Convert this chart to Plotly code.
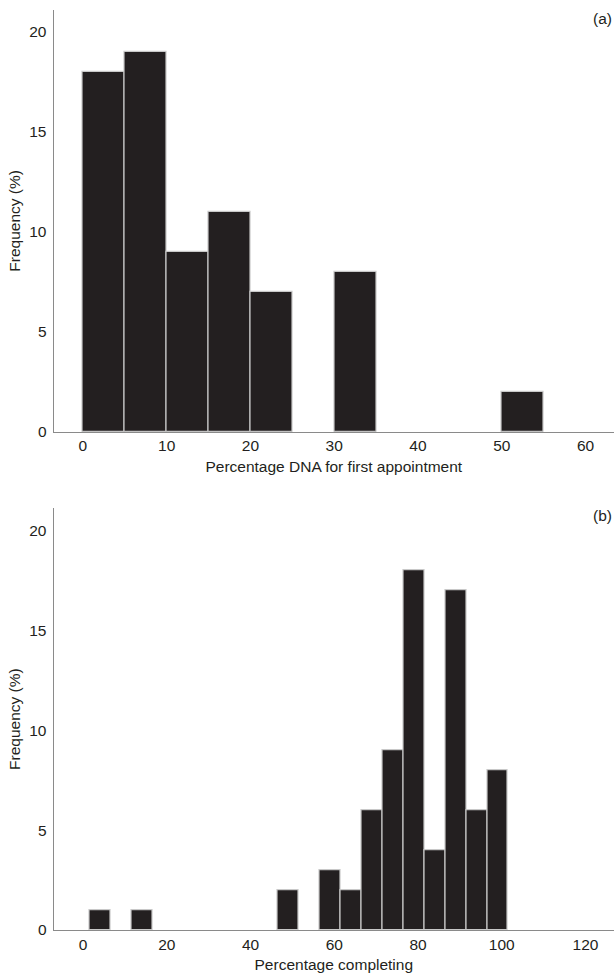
import plotly.graph_objects as go
from plotly.subplots import make_subplots

# Panel (a): Percentage DNA for first appointment (bin centres, width 5)
dna_bins = [2.5, 7.5, 12.5, 17.5, 22.5, 32.5, 52.5]
dna_freq = [18, 19, 9, 11, 7, 8, 2]
dna_ticks = [0, 10, 20, 30, 40, 50, 60]

# Panel (b): Percentage completing (bin centres, width 5)
comp_bins = [4, 14, 49, 59, 64, 69, 74, 79, 84, 89, 94, 99]
comp_freq = [1, 1, 2, 3, 2, 6, 9, 18, 4, 17, 6, 8]
comp_ticks = [0, 20, 40, 60, 80, 100, 120]

y_ticks = [0, 5, 10, 15, 20]

FONT = "Liberation Sans, Arial, sans-serif"
FS = 15.5
TXT = "#231f20"
BAR = "#231f20"
EDGE = "#c8c8c8"
AX = "#8a8a8a"

fig = make_subplots(rows=2, cols=1)

fig.add_trace(go.Bar(x=dna_bins, y=dna_freq, width=5,
                     marker=dict(color=BAR, line=dict(color=EDGE, width=1.2)), showlegend=False), row=1, col=1)
fig.add_trace(go.Bar(x=comp_bins, y=comp_freq, width=5,
                     marker=dict(color=BAR, line=dict(color=EDGE, width=1.2)), showlegend=False), row=2, col=1)

H = 977.0
W = 614.0
xdom = [53.6 / W, 1.0]
y1dom = [1 - 431.7 / H, 1 - 10 / H]
y2dom = [1 - 930 / H, 1 - 508.3 / H]

common_x = dict(showgrid=False, zeroline=False, showline=True, linecolor=AX, linewidth=1,
                ticks="", automargin=False, tickfont=dict(family=FONT, size=FS, color=TXT),
                title_font=dict(family=FONT, size=FS, color=TXT), title_standoff=7)
common_y = dict(showgrid=False, zeroline=False, showline=True, linecolor=AX, linewidth=1,
                ticks="", tickvals=y_ticks, range=[0, 21.1], automargin=False,
                tickfont=dict(family=FONT, size=FS, color=TXT),
                title_font=dict(family=FONT, size=FS, color=TXT),
                ticklabelstandoff=3, title_standoff=4)

fig.update_xaxes(common_x, row=1, col=1, domain=xdom, range=[-3.5, 63.4], tickvals=dna_ticks,
                 title_text="Percentage DNA for first appointment")
fig.update_xaxes(common_x, row=2, col=1, domain=xdom, range=[-7.02, 126.8], tickvals=comp_ticks,
                 title_text="Percentage completing")
fig.update_yaxes(common_y, row=1, col=1, domain=y1dom, title_text="Frequency (%)")
fig.update_yaxes(common_y, row=2, col=1, domain=y2dom, title_text="Frequency (%)")

fig.add_annotation(text="(a)", xref="paper", yref="paper", x=1.0, y=1 - 18 / H, xanchor="right",
                   yanchor="middle", showarrow=False, font=dict(family=FONT, size=FS, color=TXT))
fig.add_annotation(text="(b)", xref="paper", yref="paper", x=1.0, y=1 - 515 / H, xanchor="right",
                   yanchor="middle", showarrow=False, font=dict(family=FONT, size=FS, color=TXT))

fig.update_layout(width=614, height=977, margin=dict(l=0, r=0, t=0, b=0),
                  plot_bgcolor="white", paper_bgcolor="white", bargap=0)

fig.write_html("out.html", config={"displayModeBar": False},
               post_script="document.body.style.margin='0';")
